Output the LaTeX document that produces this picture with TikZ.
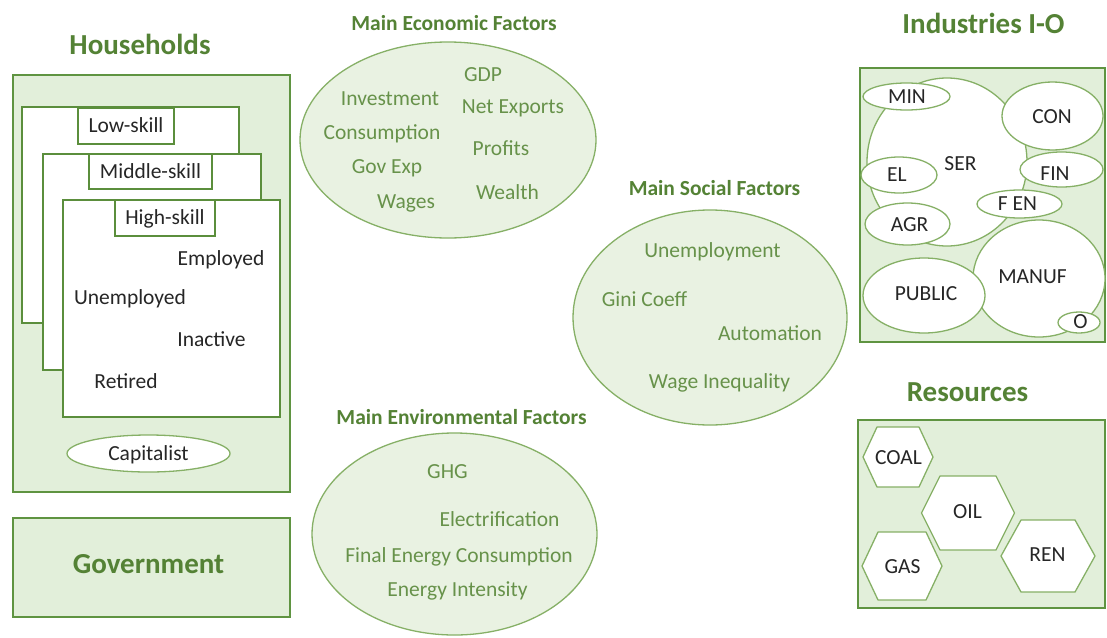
\documentclass[tikz,border=0pt]{standalone}
\usepackage{fontspec}
\setmainfont{Carlito}
\usetikzlibrary{shapes.geometric}

\definecolor{panelfill}{HTML}{E2EFDA}
\definecolor{panelline}{HTML}{5F9441}
\definecolor{headgreen}{HTML}{548235}
\definecolor{factorfill}{HTML}{E9F2E2}
\definecolor{factorline}{HTML}{86B066}
\definecolor{factortext}{HTML}{67924A}
\definecolor{inktext}{HTML}{262626}
\definecolor{cardline}{HTML}{5B8E3C}

\begin{document}
\begin{tikzpicture}[x=1pt,y=-1pt,
  panel/.style={draw=panelline, line width=2pt, fill=panelfill, inner sep=0pt},
  card/.style={draw=cardline, line width=2pt, fill=white, inner sep=0pt},
  tab/.style={draw=cardline, line width=2pt, fill=white, inner sep=0pt,
    font=\fontsize{21.5}{26}\selectfont, text=inktext, text height=13.8pt, text depth=0pt},
  word/.style={inner sep=0pt, font=\fontsize{21.5}{26}\selectfont, text=inktext,
    text height=13.8pt, text depth=0pt},
  factor/.style={word, text=factortext},
  heading/.style={inner sep=0pt, font=\bfseries\fontsize{29}{34}\selectfont, text=headgreen,
    text height=18.7pt, text depth=0pt},
  subheading/.style={inner sep=0pt, font=\bfseries\fontsize{21.5}{26}\selectfont, text=headgreen,
    text height=13.8pt, text depth=0pt},
  factorzone/.style={ellipse, draw=factorline, line width=1.3pt, fill=factorfill, inner sep=0pt},
  sector/.style={ellipse, draw=factorline, line width=1.3pt, fill=white, inner sep=0pt},
  hexline/.style={draw=factorline, line width=1.3pt, fill=white, line join=round}
]
\useasboundingbox (0,0) rectangle (1107,637);
\fill[white] (0,0) rectangle (1107,637);

% ---------- Households ----------
\node[heading] (hhtitle) at (140,45) {Households};
\node[panel, minimum width=277pt, minimum height=417pt] (hh) at (151.5,283.5) {};

\node[card, minimum width=217pt, minimum height=216pt] (lowcard) at (130.5,215) {};
\node[tab, minimum width=96pt, minimum height=36pt] (lowtab) at (126,126) {Low-skill};

\node[card, minimum width=218pt, minimum height=216pt] (midcard) at (152,262) {};
\node[tab, minimum width=123pt, minimum height=35pt] (midtab) at (150.5,171.5) {Middle-skill};

\node[card, minimum width=217pt, minimum height=217pt] (highcard) at (171.5,308.5) {};
\node[tab, minimum width=100pt, minimum height=36pt] (hightab) at (165,218) {High-skill};

\node[word] (employed) at (221,258.3) {Employed};
\node[word] (unemployed) at (130,298) {Unemployed};
\node[word] (inactive) at (211.5,340) {Inactive};
\node[word] (retired) at (126,381.7) {Retired};

\node[ellipse, draw=factorline, line width=1.3pt, fill=white, inner sep=0pt,
  minimum width=163pt, minimum height=37pt,
  font=\fontsize{21.5}{26}\selectfont, text=inktext, text height=13.8pt, text depth=0pt]
  (capitalist) at (148.5,453.5) {Capitalist};

% ---------- Government ----------
\node[panel, minimum width=277pt, minimum height=99pt] (gov) at (151.5,567.5) {};
\node[heading] (govtitle) at (148.5,564.5) {Government};

% ---------- Main Economic Factors ----------
\node[subheading] (econtitle) at (454,23.3) {Main Economic Factors};
\node[factorzone, minimum width=296pt, minimum height=196pt] (econ) at (448,140) {};
\node[factor] (gdp) at (483,75) {GDP};
\node[factor] (investment) at (390,98.3) {Investment};
\node[factor] (netexports) at (513,107) {Net Exports};
\node[factor] (consumption) at (382,132.7) {Consumption};
\node[factor] (profits) at (501,148.3) {Profits};
\node[factor] (govexp) at (387,167) {Gov Exp};
\node[factor] (wealth) at (507.5,193) {Wealth};
\node[factor] (wages) at (406,201.7) {Wages};

% ---------- Main Social Factors ----------
\node[subheading] (soctitle) at (714.5,188.3) {Main Social Factors};
\node[factorzone, minimum width=274pt, minimum height=215pt] (social) at (710,317.5) {};
\node[factor] (unemployment) at (712.5,250.3) {Unemployment};
\node[factor] (gini) at (644.5,300) {Gini Coeff};
\node[factor] (automation) at (770,333.3) {Automation};
\node[factor] (wageineq) at (719.5,381.7) {Wage Inequality};

% ---------- Main Environmental Factors ----------
\node[subheading] (envtitle) at (461.5,418) {Main Environmental Factors};
\node[factorzone, minimum width=285pt, minimum height=202pt] (env) at (454.5,534) {};
\node[factor] (ghg) at (447.5,471.7) {GHG};
\node[factor] (electrification) at (499.5,520) {Electrification};
\node[factor] (finalenergy) at (459,556) {Final Energy Consumption};
\node[factor] (intensity) at (457.5,590) {Energy Intensity};

% ---------- Industries I-O ----------
\node[heading] (indtitle) at (983.5,24) {Industries I-O};
\node[panel, minimum width=245pt, minimum height=274pt] (ind) at (982.5,205) {};

\node[sector, minimum width=160pt, minimum height=168pt] (ser) at (947,162) {};
\node[sector, minimum width=87pt, minimum height=27pt] (min) at (906.5,96.5) {};
\node[sector, minimum width=101pt, minimum height=68pt] (con) at (1052.5,116) {};
\node[sector, minimum width=76pt, minimum height=36pt] (el) at (899,175) {};
\node[sector, minimum width=83pt, minimum height=35pt] (fin) at (1061.5,169.5) {};
\node[sector, minimum width=85pt, minimum height=42pt] (agr) at (907.5,224) {};
\node[sector, minimum width=132pt, minimum height=117pt] (manuf) at (1039,278.5) {};
\node[sector, minimum width=85pt, minimum height=28pt] (fen) at (1019.5,204) {};
\node[sector, minimum width=122pt, minimum height=75pt] (public) at (924,295.5) {};
\node[sector, minimum width=42pt, minimum height=21pt] (o) at (1079,322.5) {};

\node[word] (serlbl) at (960.5,163.3) {SER};
\node[word] (minlbl) at (907,96.7) {MIN};
\node[word] (conlbl) at (1052,116.7) {CON};
\node[word] (ellbl) at (897,175) {EL};
\node[word] (finlbl) at (1055,173.3) {FIN};
\node[word] (fenlbl) at (1017.5,203.3) {F EN};
\node[word] (agrlbl) at (909.5,225) {AGR};
\node[word] (manuflbl) at (1032.5,276.7) {MANUF};
\node[word] (publiclbl) at (926,293.3) {PUBLIC};
\node[word] (olbl) at (1080.5,322) {O};

% ---------- Resources ----------
\node[heading] (restitle) at (967.5,392.5) {Resources};
\node[panel, minimum width=247pt, minimum height=188pt] (res) at (981.5,514) {};

% hexagon: centre (#1,#2), half width #3, half height #4, half top edge #5
\newcommand\hexcell[5]{%
  \draw[hexline] ({#1-#3},#2) -- ({#1-#5},{#2-#4}) -- ({#1+#5},{#2-#4})
    -- ({#1+#3},#2) -- ({#1+#5},{#2+#4}) -- ({#1-#5},{#2+#4}) -- cycle;}
\hexcell{898}{457}{35}{30}{21}
\hexcell{968}{513}{46.5}{37}{28}
\hexcell{902}{566}{40}{34}{24}
\hexcell{1048}{556}{47}{36}{27}

\node[word] (coal) at (898.5,458) {COAL};
\node[word] (oil) at (967.5,511.7) {OIL};
\node[word] (gas) at (902.5,566.7) {GAS};
\node[word] (ren) at (1047.5,555) {REN};
\end{tikzpicture}
\end{document}
